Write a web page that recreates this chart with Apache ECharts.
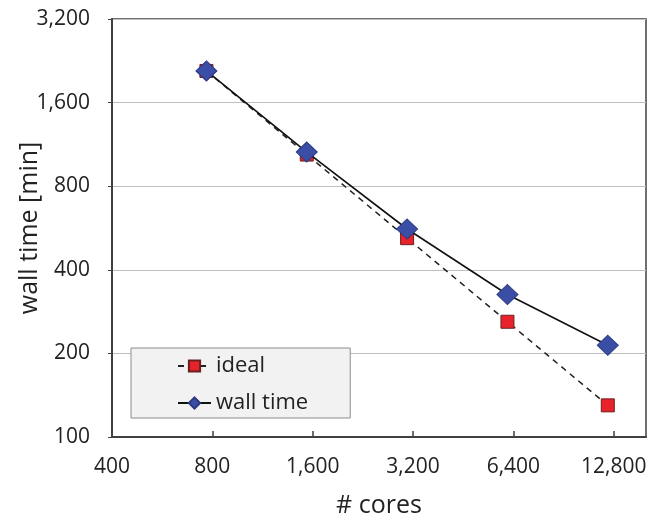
<!DOCTYPE html>
<html><head><meta charset="utf-8">
<script src="https://cdn.jsdelivr.net/npm/echarts@6/dist/echarts.min.js"></script>
<style>html,body{margin:0;padding:0;background:#fff}#c{width:662px;height:517px}</style>
</head><body><div id="c"></div>
<script>
// data
const cores = [768, 1536, 3072, 6144, 12288];
const idealTime = [2080, 1040, 520, 260, 130];
const wallTime = [2080, 1062, 561, 326, 214];
const xTickLabels = [400, 800, 1600, 3200, 6400, 12800];
const yTickLabels = [100, 200, 400, 800, 1600, 3200];
const xAxisMaxCores = 16000;

const xBase = xTickLabels[0], yBase = yTickLabels[0];
const lx = v => Math.log2(v / xBase);
const ly = v => Math.log2(v / yBase);
const fmt = n => Math.round(n).toLocaleString('en-US');
const font = '"Open Sans", "Noto Sans", sans-serif';

const chart = echarts.init(document.getElementById('c'), null, {renderer: 'canvas'});
chart.setOption({
  animation: false,
  backgroundColor: '#fff',
  grid: {left: 112, top: 19, right: 16, bottom: 80, containLabel: false, outerBoundsMode: 'none',
    show: true, borderColor: '#404040', borderWidth: 1.5, backgroundColor: 'transparent'},
  legend: {
    orient: 'vertical', left: 131, top: 348,
    padding: [7, 42, 4, 46], itemGap: 15, itemWidth: 33, itemHeight: 14,
    backgroundColor: '#f2f2f2', borderColor: '#8c8c8c', borderWidth: 1,
    textStyle: {fontFamily: font, fontSize: 22, color: '#222'},
    data: ['ideal', 'wall time']
  },
  xAxis: {
    type: 'value', min: 0, max: lx(xAxisMaxCores), interval: 1,
    name: '# cores', nameLocation: 'middle', nameGap: 56, nameMoveOverlap: false,
    nameTextStyle: {fontFamily: font, fontSize: 25, color: '#222'},
    axisLine: {show: true, lineStyle: {color: '#404040', width: 2}},
    axisTick: {show: true, inside: true, length: 6, lineStyle: {color: '#404040', width: 1.5}},
    splitLine: {show: false},
    axisLabel: {showMaxLabel: false, margin: 20, fontFamily: font, fontSize: 21, color: '#222',
      formatter: v => fmt(xBase * Math.pow(2, v))}
  },
  yAxis: {
    type: 'value', min: 0, max: ly(yTickLabels[yTickLabels.length - 1]), interval: 1,
    name: 'wall time [min]', nameLocation: 'middle', nameGap: 70, nameRotate: 90, nameMoveOverlap: false,
    nameTextStyle: {fontFamily: font, fontSize: 25, color: '#222'},
    axisLine: {show: true, lineStyle: {color: '#404040', width: 2}},
    axisTick: {show: true, inside: false, length: 4, lineStyle: {color: '#404040'}},
    splitLine: {show: true, lineStyle: {color: '#bfbfbf', width: 1.2}},
    axisLabel: {margin: 22, fontFamily: font, fontSize: 21, color: '#222',
      formatter: v => fmt(yBase * Math.pow(2, v))}
  },
  series: [
    {
      name: 'ideal', type: 'line', z: 2,
      data: cores.map((c, i) => [lx(c), ly(idealTime[i])]),
      symbol: 'rect', symbolSize: 13,
      itemStyle: {color: '#e8222b', borderColor: '#6b2020', borderWidth: 1},
      lineStyle: {color: '#222', width: 1.5, type: [6, 5]}
    },
    {
      name: 'wall time', type: 'line', z: 3,
      data: cores.map((c, i) => [lx(c), ly(wallTime[i])]),
      symbol: 'diamond', symbolSize: [21, 20],
      itemStyle: {color: '#3b4ea6', borderColor: '#2c3a80', borderWidth: 1},
      lineStyle: {color: '#111', width: 1.6, type: 'solid'}
    }
  ]
});
</script></body></html>
